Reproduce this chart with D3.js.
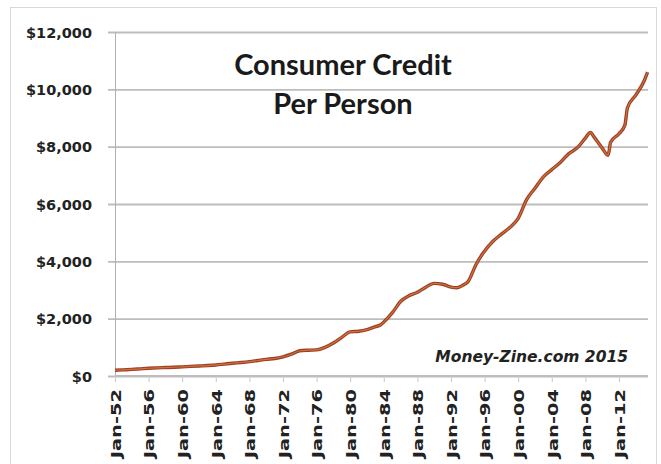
<!DOCTYPE html>
<html lang="en">
<head>
<meta charset="UTF-8">
<title>Consumer Credit Per Person</title>
<script src="https://d3js.org/d3.v7.min.js"></script>
<style>
	body { margin: 0; background: #fff; }
	svg { display: block; }
</style>
</head>
<body>
<svg width="661" height="464"></svg>
<script>
	// data (year, dollars per person)
	const years = [1952, 1953, 1954, 1955, 1956, 1957, 1958, 1959, 1960, 1961, 1962, 1963, 1964, 1965,
		1966, 1967, 1968, 1969, 1970, 1971, 1972, 1973, 1974, 1975, 1976, 1977, 1978, 1979, 1980,
		1981, 1982, 1983, 1983.6, 1984, 1985, 1986, 1987, 1988, 1989, 1990, 1991, 1992, 1992.7, 1993.5,
		1994, 1995, 1995.8, 1997, 1998, 1999, 2000, 2001, 2002, 2003, 2004, 2005, 2006, 2007,
		2008, 2008.6, 2009, 2010, 2010.7, 2011, 2012, 2012.7, 2013, 2014, 2015, 2015.4];
	const credit = [200, 215, 230, 250, 270, 285, 295, 305, 320, 335, 350, 365, 385, 415,
		445, 470, 500, 540, 580, 610, 670, 760, 880, 900, 910, 1000, 1150, 1350, 1540,
		1560, 1620, 1720, 1780, 1880, 2200, 2600, 2800, 2920, 3100, 3230, 3200, 3100, 3080, 3180,
		3280, 3900, 4280, 4700, 4950, 5180, 5500, 6150, 6550, 6950, 7200, 7450, 7750, 7950,
		8300, 8500, 8350, 7950, 7700, 8150, 8450, 8750, 9350, 9800, 10300, 10600];
	const yTicks = [0, 2000, 4000, 6000, 8000, 10000, 12000];
	const xTicks = d3.range(1952, 2013, 4);
	const titleLines = ["Consumer Credit", "Per Person"];
	const sourceText = "Money-Zine.com 2015";

	const data = years.map((y, i) => ({ year: y, value: credit[i] }));

	const svg = d3.select("svg");

	// outer frame
	svg.append("rect")
		.attr("x", 10.5).attr("y", 7.5)
		.attr("width", 646).attr("height", 462)
		.attr("fill", "none")
		.attr("stroke", "#d9d9d9");

	const x = d3.scaleLinear().domain([1952, 2015.5]).range([115, 648.4]);
	const y = d3.scaleLinear().domain([0, 12000]).range([376, 32]);

	// gridlines + y labels
	const yAxis = d3.axisLeft(y)
		.tickValues(yTicks)
		.tickSize(-(648 - 108))
		.tickPadding(0)
		.tickFormat(d => "$" + d3.format(",")(d));

	const gy = svg.append("g")
		.attr("transform", "translate(108,0)")
		.call(yAxis);
	gy.select(".domain").remove();
	gy.selectAll(".tick line")
		.attr("stroke", "#bdbdbd")
		.attr("stroke-width", 1.8)
		.attr("x1", 0);
	gy.selectAll(".tick text")
		.attr("x", 92 - 108)
		.attr("dy", "0.36em")
		.style("font-family", "'DejaVu Sans', sans-serif")
		.style("font-weight", "bold")
		.style("font-size", "14.5px")
		.attr("fill", "#222");

	// left axis line
	svg.append("line")
		.attr("x1", 115.5).attr("x2", 115.5)
		.attr("y1", y(12000)).attr("y2", y(0))
		.attr("stroke", "#b0b0b0")
		.attr("stroke-width", 1);

	// x axis
	const xAxis = d3.axisBottom(x)
		.tickValues(xTicks)
		.tickSize(6)
		.tickFormat(d => "Jan-" + String(d % 100).padStart(2, "0"));

	const gx = svg.append("g")
		.attr("transform", "translate(0," + y(0) + ")")
		.call(xAxis);
	gx.select(".domain")
		.attr("d", "M115,0H648")
		.attr("stroke", "#bdbdbd")
		.attr("stroke-width", 1.8);
	gx.selectAll(".tick line").attr("stroke", "#c8c8c8");
	gx.selectAll(".tick text")
		.attr("text-anchor", "end")
		.attr("y", 0)
		.attr("dy", "0.36em")
		.attr("transform", "translate(0,13) rotate(-90) scale(1.34,1)")
		.style("font-family", "'DejaVu Sans', sans-serif")
		.style("font-weight", "bold")
		.style("font-size", "14.5px")
		.attr("fill", "#222");

	// the line, drawn twice for the darker edge
	const line = d3.line()
		.x(d => x(d.year))
		.y(d => y(d.value))
		.curve(d3.curveMonotoneX);

	svg.append("path")
		.datum(data)
		.attr("d", line)
		.attr("fill", "none")
		.attr("stroke", "#9a3f22")
		.attr("stroke-width", 3.4)
		.attr("stroke-linejoin", "round");
	svg.append("path")
		.datum(data)
		.attr("d", line)
		.attr("fill", "none")
		.attr("stroke", "#d0703f")
		.attr("stroke-width", 1.2)
		.attr("stroke-linejoin", "round");

	// title
	svg.append("text")
		.attr("x", 343)
		.attr("y", 75)
		.attr("text-anchor", "middle")
		.style("font-family", "Lato, sans-serif")
		.style("font-weight", "bold")
		.style("font-size", "29px")
		.attr("fill", "#1a1a1a")
		.selectAll("tspan")
		.data(titleLines)
		.join("tspan")
		.attr("x", 343)
		.attr("dy", (d, i) => i ? 39 : 0)
		.text(d => d);

	// source note
	svg.append("text")
		.attr("x", 628)
		.attr("y", 362)
		.attr("text-anchor", "end")
		.style("font-family", "'DejaVu Sans', sans-serif")
		.style("font-weight", "bold")
		.style("font-style", "italic")
		.style("font-size", "15.5px")
		.attr("fill", "#222")
		.text(sourceText);
</script>
</body>
</html>
